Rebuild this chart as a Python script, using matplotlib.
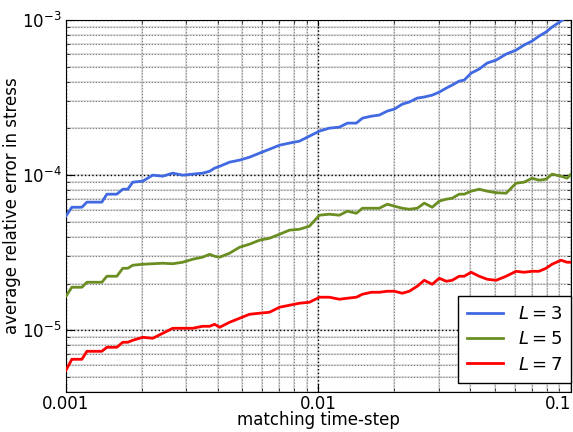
import matplotlib
matplotlib.use('Agg')
import matplotlib.pyplot as plt
from matplotlib.ticker import NullFormatter

## data (matching time-step vs average relative error)
time_step = [0.001, 0.001056, 0.001157, 0.001211, 0.001388, 0.001453, 0.001591, 0.00168,
             0.001758, 0.00184, 0.002016, 0.002207, 0.002417, 0.002648, 0.0029, 0.003177,
             0.003479, 0.003709, 0.00388, 0.004061, 0.004448, 0.004872, 0.005337, 0.005846,
             0.006402, 0.007013, 0.00768, 0.008413, 0.009213, 0.01009, 0.01105, 0.01211,
             0.01302, 0.01413, 0.01493, 0.0162, 0.01742, 0.01874, 0.01997, 0.02148,
             0.02289, 0.02462, 0.02624, 0.02822, 0.03008, 0.03206, 0.03385, 0.03608,
             0.03776, 0.04025, 0.04329, 0.04656, 0.05053, 0.05535, 0.06062, 0.0652,
             0.07013, 0.07473, 0.07963, 0.08415, 0.09131, 0.09643, 0.1009]

err_L3 = [5.44e-5, 6.21e-5, 6.21e-5, 6.70e-5, 6.70e-5, 7.54e-5, 7.54e-5, 8.12e-5,
          8.12e-5, 9.01e-5, 9.15e-5, 1.0e-4, 9.85e-5, 1.03e-4, 1.0e-4, 1.015e-4,
          1.03e-4, 1.06e-4, 1.11e-4, 1.14e-4, 1.213e-4, 1.25e-4, 1.306e-4, 1.387e-4,
          1.47e-4, 1.56e-4, 1.61e-4, 1.657e-4, 1.785e-4, 1.923e-4, 2.01e-4, 2.04e-4,
          2.165e-4, 2.165e-4, 2.33e-4, 2.40e-4, 2.44e-4, 2.59e-4, 2.665e-4, 2.87e-4,
          2.96e-4, 3.14e-4, 3.19e-4, 3.28e-4, 3.43e-4, 3.64e-4, 3.81e-4, 4.04e-4,
          4.10e-4, 4.55e-4, 4.83e-4, 5.28e-4, 5.52e-4, 6.03e-4, 6.40e-4, 6.90e-4,
          7.32e-4, 7.88e-4, 8.37e-4, 9.01e-4, 9.85e-4, 1.046e-3, 1.093e-3]

err_L5 = [1.657e-5, 1.894e-5, 1.894e-5, 2.04e-5, 2.04e-5, 2.23e-5, 2.23e-5, 2.51e-5,
          2.51e-5, 2.626e-5, 2.665e-5, 2.685e-5, 2.705e-5, 2.685e-5, 2.745e-5, 2.87e-5,
          2.96e-5, 3.09e-5, 3.0e-5, 2.96e-5, 3.14e-5, 3.43e-5, 3.59e-5, 3.81e-5,
          3.92e-5, 4.16e-5, 4.42e-5, 4.48e-5, 4.69e-5, 5.52e-5, 5.60e-5, 5.52e-5,
          5.86e-5, 5.68e-5, 6.12e-5, 6.12e-5, 6.12e-5, 6.50e-5, 6.31e-5, 6.12e-5,
          6.03e-5, 6.12e-5, 6.60e-5, 6.21e-5, 6.80e-5, 7.0e-5, 7.10e-5, 7.54e-5,
          7.54e-5, 7.88e-5, 8.12e-5, 7.88e-5, 7.71e-5, 7.65e-5, 8.88e-5, 9.01e-5,
          9.56e-5, 9.28e-5, 9.42e-5, 1.015e-4, 9.85e-5, 9.56e-5, 1.03e-4]

err_L7 = [5.52e-6, 6.50e-6, 6.50e-6, 7.32e-6, 7.32e-6, 7.77e-6, 7.77e-6, 8.37e-6,
          8.37e-6, 8.62e-6, 9.01e-6, 8.88e-6, 9.56e-6, 1.03e-5, 1.03e-5, 1.03e-5,
          1.061e-5, 1.061e-5, 1.093e-5, 1.045e-5, 1.126e-5, 1.195e-5, 1.268e-5, 1.288e-5,
          1.307e-5, 1.408e-5, 1.45e-5, 1.494e-5, 1.516e-5, 1.633e-5, 1.633e-5, 1.585e-5,
          1.609e-5, 1.633e-5, 1.707e-5, 1.758e-5, 1.758e-5, 1.785e-5, 1.785e-5, 1.733e-5,
          1.785e-5, 1.923e-5, 2.10e-5, 1.98e-5, 2.165e-5, 2.07e-5, 2.10e-5, 2.23e-5,
          2.23e-5, 2.366e-5, 2.23e-5, 2.133e-5, 2.10e-5, 2.23e-5, 2.40e-5, 2.366e-5,
          2.40e-5, 2.40e-5, 2.51e-5, 2.665e-5, 2.83e-5, 2.745e-5, 2.745e-5]

labels = ['$L=3$', '$L=5$', '$L=7$']
colors = ['#4169E1', '#6B8E23', '#FF0000']
xtick_vals = [0.001, 0.01, 0.1]
xtick_labels = ['0.001', '0.01', '0.1']

fig = plt.figure(figsize=(5.73, 4.32), dpi=100)
ax = fig.add_axes([0.115, 0.0926, 0.8815, 0.861])

for y, lab, c in zip([err_L3, err_L5, err_L7], labels, colors):
    ax.plot(time_step, y, color=c, lw=2, label=lab, zorder=3)

ax.set_xscale('log')
ax.set_yscale('log')
ax.set_xlim(0.001, 0.1)
ax.set_ylim(4e-6, 1e-3)

ax.set_xticks(xtick_vals, xtick_labels)
ax.xaxis.set_minor_formatter(NullFormatter())
ax.yaxis.set_minor_formatter(NullFormatter())
ax.get_xticklabels()[-1].set_horizontalalignment('right')

ax.tick_params(which='both', direction='in', top=True, right=True, labelsize=12)
ax.tick_params(which='major', length=6, pad=3)
ax.tick_params(axis='x', which='major', pad=2)
ax.tick_params(which='minor', length=3)

## grid: light solid under dotted lines
ax.grid(which='both', color='0.85', ls='-', lw=1.2)
ax.set_axisbelow(True)
for v in ax.xaxis.get_minorticklocs():
    ax.axvline(v, color='0.5', ls=':', lw=0.8, zorder=1)
for v in ax.yaxis.get_minorticklocs():
    ax.axhline(v, color='0.5', ls=':', lw=0.8, zorder=1)
for v in ax.xaxis.get_majorticklocs():
    ax.axvline(v, color='k', ls=':', lw=1, zorder=1)
for v in ax.yaxis.get_majorticklocs():
    ax.axhline(v, color='k', ls=':', lw=1, zorder=1)
ax.set_xlim(0.001, 0.1)
ax.set_ylim(4e-6, 1e-3)

ax.set_xlabel('matching time-step', fontsize=12)
ax.set_ylabel('average relative error in stress', fontsize=12)
ax.xaxis.set_label_coords(0.5, -0.052)
ax.yaxis.set_label_coords(-0.088, 0.5)

leg = ax.legend(loc='lower right', bbox_to_anchor=(1.0, 0.025), borderaxespad=0,
                fontsize=13, fancybox=False, framealpha=1, labelspacing=0.4,
                handlelength=2.0, borderpad=0.5)
leg.get_frame().set_edgecolor('k')
leg.set_zorder(5)

plt.savefig('out.png', dpi=100)
